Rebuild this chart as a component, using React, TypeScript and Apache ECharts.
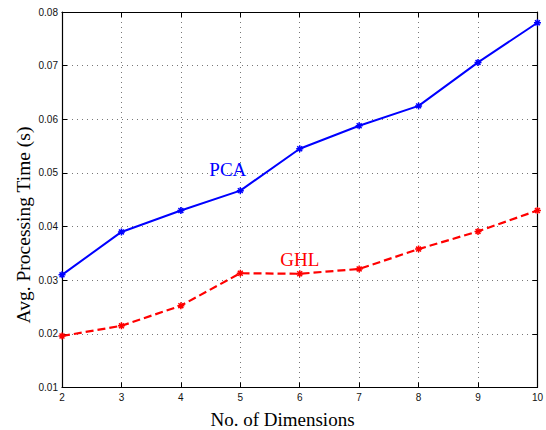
import React, { useEffect, useRef } from "react";
import * as echarts from "echarts";

const dimensions = [2, 3, 4, 5, 6, 7, 8, 9, 10];
const pcaTimes = [0.031, 0.039, 0.043, 0.0467, 0.0545, 0.0588, 0.0625, 0.0706, 0.078];
const ghlTimes = [0.0196, 0.0215, 0.02525, 0.0313, 0.0312, 0.0321, 0.0358, 0.0391, 0.043];
const pcaLabelAt = [4.79, 0.0506];
const ghlLabelAt = [6.0, 0.0338];

const SERIF = "'Liberation Serif', 'Times New Roman', serif";
const SANS = "'Liberation Sans', Arial, sans-serif";
const ASTERISK = "path://M0,5L10,5M5,0L5,10M1.5,1.5L8.5,8.5M8.5,1.5L1.5,8.5";

export default function App() {
  const ref = useRef<HTMLDivElement>(null);
  useEffect(() => {
    if (!ref.current) return;
    const chart = echarts.init(ref.current, undefined, { renderer: "svg" });
    const tick = { show: true, inside: true, length: 5, lineStyle: { color: "#000", width: 1 } };
    const axisLine = { show: true, onZero: false, lineStyle: { color: "#000", width: 1.2 } };
    const split = { show: true, lineStyle: { color: "#777", type: [1, 4] as any, width: 1 } };
    const fmt = (v: number) => String(Number(v.toFixed(2)));
    chart.setOption({
      animation: false,
      backgroundColor: "#fff",
      grid: { left: 62, right: 8, top: 12, bottom: 42.5, containLabel: false },
      xAxis: [
        {
          type: "value", min: 2, max: 10, interval: 1, position: "bottom",
          axisLine, axisTick: tick, splitLine: split,
          axisLabel: { fontFamily: SANS, fontSize: 10, color: "#111", margin: 5 },
        },
        {
          type: "value", min: 2, max: 10, interval: 1, position: "top",
          axisLine, axisTick: tick, splitLine: { show: false }, axisLabel: { show: false },
        },
      ],
      yAxis: [
        {
          type: "value", min: 0.01, max: 0.08, interval: 0.01, position: "left",
          axisLine, axisTick: tick, splitLine: split,
          axisLabel: { fontFamily: SANS, fontSize: 10, color: "#111", margin: 4, formatter: fmt },
        },
        {
          type: "value", min: 0.01, max: 0.08, interval: 0.01, position: "right",
          axisLine, axisTick: tick, splitLine: { show: false }, axisLabel: { show: false },
        },
      ],
      series: [
        {
          type: "line", name: "PCA",
          data: dimensions.map((d, i) => [d, pcaTimes[i]]),
          lineStyle: { color: "#0000ff", width: 2 },
          symbol: ASTERISK, symbolSize: 7,
          itemStyle: { color: "#0000ff", borderColor: "#0000ff", borderWidth: 1.5 },
          z: 5,
        },
        {
          type: "line", name: "GHL",
          data: dimensions.map((d, i) => [d, ghlTimes[i]]),
          lineStyle: { color: "#ff0000", width: 2.2, type: [8, 4] },
          symbol: ASTERISK, symbolSize: 7,
          itemStyle: { color: "#ff0000", borderColor: "#ff0000", borderWidth: 1.5 },
          z: 5,
        },
      ],
    });
    const p1 = chart.convertToPixel({ gridIndex: 0 }, pcaLabelAt) as number[];
    const p2 = chart.convertToPixel({ gridIndex: 0 }, ghlLabelAt) as number[];
    chart.setOption({
      graphic: [
        {
          type: "text", x: p1[0], y: p1[1],
          style: { text: "PCA", fill: "#0000ff", font: `19px ${SERIF}`, align: "center", verticalAlign: "middle" },
        },
        {
          type: "text", x: p2[0], y: p2[1],
          style: { text: "GHL", fill: "#ff0000", font: `19px ${SERIF}`, align: "center", verticalAlign: "middle" },
        },
        {
          type: "text", x: 282.5, y: 419,
          style: { text: "No. of Dimensions", fill: "#000", font: `19px ${SERIF}`, align: "center", verticalAlign: "middle" },
        },
        {
          type: "text", x: 23, y: 225, rotation: Math.PI / 2,
          style: { text: "Avg. Processing Time (s)", fill: "#000", font: `19.5px ${SERIF}`, align: "center", verticalAlign: "middle" },
        },
      ],
    });
    return () => chart.dispose();
  }, []);
  return (
    <div
      ref={ref}
      style={{ position: "fixed", left: 0, top: 0, width: 546, height: 430, background: "#fff" }}
    />
  );
}
